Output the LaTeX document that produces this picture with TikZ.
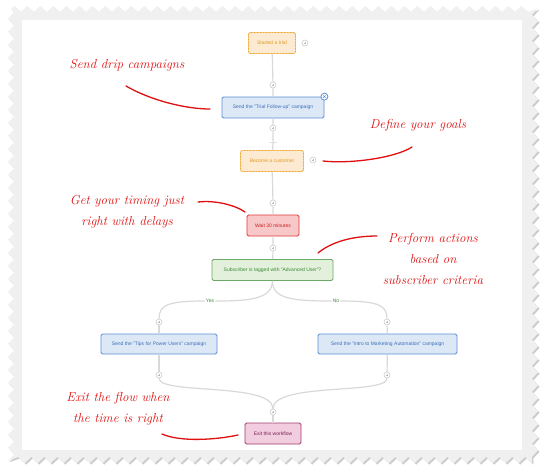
\documentclass[tikz,border=0pt]{standalone}
\usepackage{fontspec}
\setsansfont{Liberation Sans}
\usetikzlibrary{positioning, arrows.meta, calc, decorations.pathmorphing}

\definecolor{orgline}{HTML}{F0A830}
\definecolor{orgfill}{HTML}{FCEBD2}
\definecolor{orgtext}{HTML}{E29A20}
\definecolor{blueline}{HTML}{5B8FD6}
\definecolor{bluefill}{HTML}{DDE8F7}
\definecolor{bluetext}{HTML}{3C6FB8}
\definecolor{redline}{HTML}{E03838}
\definecolor{redfill}{HTML}{F8C8C8}
\definecolor{redtext}{HTML}{C42020}
\definecolor{grnline}{HTML}{6AAA64}
\definecolor{grnfill}{HTML}{E2F0DC}
\definecolor{grntext}{HTML}{3C8A36}
\definecolor{pnkline}{HTML}{A03C70}
\definecolor{pnkfill}{HTML}{F2CDE0}
\definecolor{pnktext}{HTML}{7A2050}
\definecolor{notered}{HTML}{E01010}

\begin{document}
\begin{tikzpicture}[
  x=1pt, y=-1pt,
  font=\sffamily,
  stepbase/.style={rounded corners=1.5pt, align=center, minimum height=21pt, inner sep=2pt,
    line width=0.8pt, font=\sffamily\fontsize{5}{6}\selectfont},
  trigbox/.style={stepbase, draw=orgline, fill=orgfill, text=orgtext, dash pattern=on 1pt off 0.5pt},
  mailbox/.style={stepbase, draw=blueline, fill=bluefill, text=bluetext},
  waitbox/.style={stepbase, draw=redline, fill=redfill, text=redtext},
  condbox/.style={stepbase, draw=grnline, fill=grnfill, text=grntext},
  exitbox/.style={stepbase, draw=pnkline, fill=pnkfill, text=pnktext},
  addpt/.style={circle, draw=gray!45, fill=white, line width=0.5pt, minimum size=6pt, inner sep=0pt,
    path picture={\draw[gray!55, line width=0.4pt]
      ([xshift=-1.3pt]path picture bounding box.center) -- ([xshift=1.3pt]path picture bounding box.center)
      ([yshift=-1.3pt]path picture bounding box.center) -- ([yshift=1.3pt]path picture bounding box.center);}},
  closept/.style={circle, draw=blueline, fill=white, line width=0.8pt, minimum size=7pt, inner sep=0pt,
    path picture={\draw[blueline, line width=0.5pt]
      ([shift={(-1.2pt,-1.2pt)}]path picture bounding box.center) -- ([shift={(1.2pt,1.2pt)}]path picture bounding box.center)
      ([shift={(-1.2pt,1.2pt)}]path picture bounding box.center) -- ([shift={(1.2pt,-1.2pt)}]path picture bounding box.center);}},
  stopbar/.style={draw=gray!40, line width=1pt, minimum width=7pt, minimum height=0pt, inner sep=0pt},
  link/.style={draw=gray!30, line width=1.2pt},
  branch/.style={text=grntext, fill=white, inner sep=1pt, font=\sffamily\fontsize{5}{6}\selectfont},
  note/.style={text=notered, align=center, font=\rmfamily\itshape\fontsize{13}{21}\selectfont},
  stroke/.style={draw=notered, line width=1.3pt, line cap=round}
]
\useasboundingbox (0,0) rectangle (546,475);

% --- stamp frame ---
\fill[gray!40, decorate, decoration={zigzag, segment length=13pt, amplitude=3pt}]
  (12.5,10.5) rectangle (536.5,461.5);
\fill[gray!12, decorate, decoration={zigzag, segment length=13pt, amplitude=3pt}]
  (11,9) rectangle (535,460);
\fill[white] (22,20) rectangle (522,450);

% --- main flow ---
\node[trigbox, minimum width=47pt] (trial) at (272,43) {Started a trial};
\node[addpt] (tadd) at (305,43) {};
\node[addpt] (p1) at (273,85) {};
\node[mailbox, minimum width=102pt] (follow) at (273,107.5) {Send the "Trial Follow-up" campaign};
\node[addpt] (p2) at (273,128) {};
\node[stopbar] (stop) at (273,142) {};
\node[trigbox, minimum width=63pt] (custom) at (272,161) {Become a customer};
\node[addpt] (cadd) at (313,160) {};
\node[addpt] (p3) at (273,203) {};
\node[waitbox, minimum width=52pt] (wait) at (273,225.5) {Wait 30 minutes};
\node[addpt] (p4) at (273,248) {};
\node[condbox, minimum width=121pt] (cond) at (272.5,270) {Subscriber is tagged with "Advanced User"?};

\draw[link] (trial) -- (p1) -- (follow) -- (p2) -- (stop) -- (custom) -- (p3) -- (wait) -- (p4) -- (cond);
\node[closept] (close) at (follow.north east) {};

% --- yes / no branches ---
\node[branch] (yes) at (210,301) {Yes};
\node[branch] (no) at (336,301) {No};
\node[addpt] (pL) at (159,322) {};
\node[addpt] (pR) at (387,322) {};
\node[mailbox, minimum width=116pt, minimum height=20pt] (tips) at (159,344) {Send the "Tips for Power Users" campaign};
\node[mailbox, minimum width=139pt, minimum height=20pt] (intro) at (387.5,344) {Send the "Intro to Marketing Automation" campaign};
\node[addpt] (pLb) at (159,375) {};
\node[addpt] (pRb) at (387,375) {};
\node[addpt] (pX) at (273,412) {};
\node[exitbox, minimum width=56pt] (exitwf) at (273,433.5) {Exit this workflow};

\draw[link] (cond.south) .. controls (272,299) and (250,301) .. (yes.east);
\draw[link] (yes.west) .. controls (168,301) and (159,305) .. (pL.north);
\draw[link] (cond.south) .. controls (272,299) and (294,301) .. (no.west);
\draw[link] (no.east) .. controls (378,301) and (387,305) .. (pR.north);
\draw[link] (pL) -- (tips);
\draw[link] (pR) -- (intro);
\draw[link] (tips) -- (pLb);
\draw[link] (intro) -- (pRb);
\draw[link] (pLb.south) .. controls (159,395) and (273,382) .. (pX.north);
\draw[link] (pRb.south) .. controls (387,395) and (273,382) .. (pX.north);
\draw[link] (pX) -- (exitwf);

% --- handwritten notes ---
\node[note] (n1) at (127,65) {Send drip campaigns};
\node[note] (n2) at (418,125) {Define your goals};
\node[note] (n3) at (127,212) {Get your timing just\\right with delays};
\node[note] (n4) at (433,259) {Perform actions\\based on\\subscriber criteria};
\node[note] (n5) at (118,409) {Exit the flow when\\the time is right};

\coordinate (s1a) at (126,86);  \coordinate (s1b) at (210,109);
\coordinate (s2a) at (412,147); \coordinate (s2b) at (323,161);
\coordinate (s3a) at (198,202); \coordinate (s3b) at (245,212);
\coordinate (s4a) at (377,236); \coordinate (s4b) at (318,253);
\coordinate (s5a) at (162,434); \coordinate (s5b) at (238,435);

\draw[stroke] (s1a) .. controls (150,100) and (185,109) .. (s1b);
\draw[stroke] (s2a) .. controls (395,158) and (350,164) .. (s2b);
\draw[stroke] (s3a) .. controls (215,200) and (235,205) .. (s3b);
\draw[stroke] (s4a) .. controls (350,236) and (330,243) .. (s4b);
\draw[stroke] (s5a) .. controls (180,442) and (215,440) .. (s5b);

\end{tikzpicture}
\end{document}
